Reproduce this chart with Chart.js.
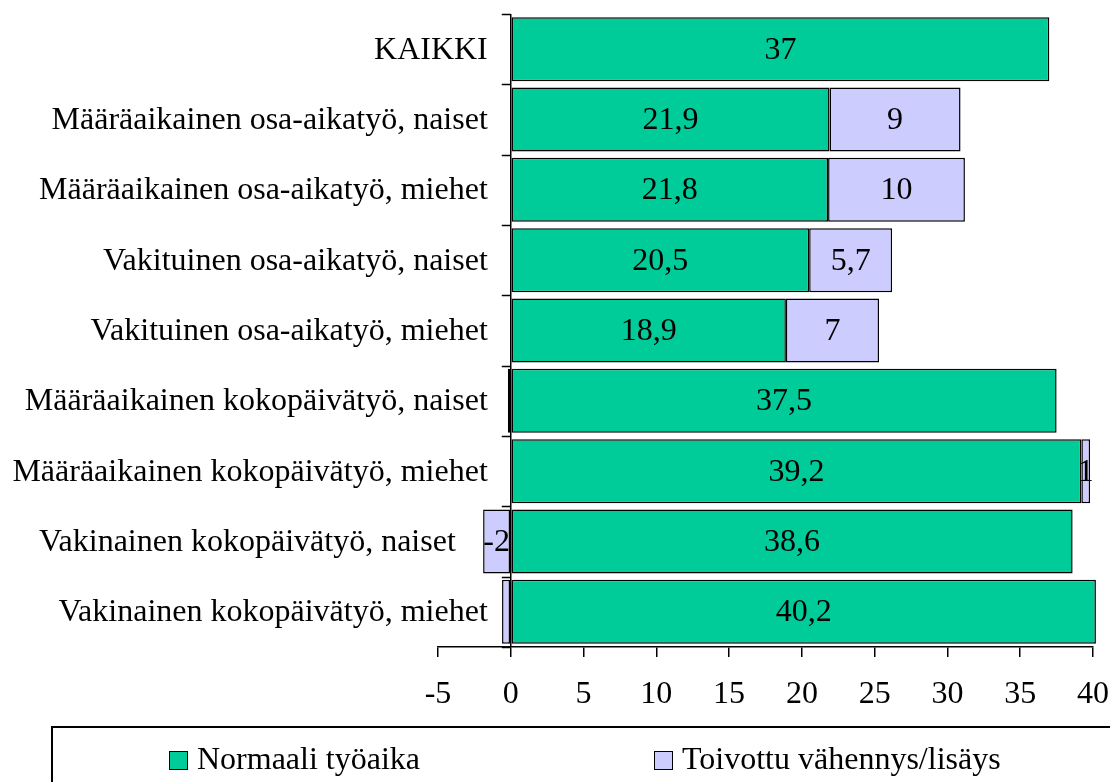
<!DOCTYPE html>
<html>
<head>
<meta charset="utf-8">
<script src="https://cdn.jsdelivr.net/npm/chart.js@4.4.1/dist/chart.umd.min.js"></script>
<style>
  html, body { margin: 0; padding: 0; background: #fff; overflow: hidden; }
  #wrap { position: relative; width: 1110px; height: 782px; }
  #legend {
    position: absolute; left: 51px; top: 726px; width: 1100px; height: 90px;
    border: 2px solid #000; box-sizing: border-box;
    font-family: 'Liberation Serif', 'Times New Roman', serif; font-size: 32px; color: #000;
  }
  .item { position: absolute; top: 12px; white-space: nowrap; line-height: 36px; }
  .box { display: inline-block; width: 17px; height: 17px; border: 1px solid #000; vertical-align: -1px; margin-right: 9px; }
</style>
</head>
<body>
<div id="wrap">
  <canvas id="grafik" width="1110" height="782"></canvas>
  <div id="legend">
    <div class="item" style="left:116px"><span class="box" style="background:#00CC99"></span>Normaali työaika</div>
    <div class="item" style="left:601px"><span class="box" style="background:#CCCCFF"></span>Toivottu vähennys/lisäys</div>
  </div>
</div>
<script>
  // data luettu kuvasta
  const kategoriat = [
    'KAIKKI',
    'Määräaikainen osa-aikatyö, naiset',
    'Määräaikainen osa-aikatyö, miehet',
    'Vakituinen osa-aikatyö, naiset',
    'Vakituinen osa-aikatyö, miehet',
    'Määräaikainen kokopäivätyö, naiset',
    'Määräaikainen kokopäivätyö, miehet',
    'Vakinainen kokopäivätyö, naiset    ',
    'Vakinainen kokopäivätyö, miehet'
  ];
  const normaaliTyoaika = [37, 21.9, 21.8, 20.5, 18.9, 37.5, 39.2, 38.6, 40.2];
  const toivottuMuutos = [0, 9, 9.4, 5.7, 6.4, -0.2, 0.6, -1.9, -0.6];
  const toivottuTekstit = ['', '9', '10', '5,7', '7', '', '1', '-2', ''];
  const xTicks = [-5, 0, 5, 10, 15, 20, 25, 30, 35, 40];

  const fontti = "'Liberation Serif', 'Times New Roman', serif";
  Chart.defaults.font.family = fontti;
  Chart.defaults.font.size = 32;
  Chart.defaults.color = '#000';

  // arvot palkkien keskelle
  const arvoTekstit = {
    id: 'arvoTekstit',
    afterDatasetsDraw(chart) {
      const ctx = chart.ctx;
      ctx.save();
      ctx.font = '32px ' + fontti;
      ctx.fillStyle = '#000';
      ctx.textAlign = 'center';
      ctx.textBaseline = 'middle';
      chart.data.datasets.forEach((ds, di) => {
        chart.getDatasetMeta(di).data.forEach((el, i) => {
          const teksti = ds.tekstit[i];
          if (!teksti) return;
          ctx.fillText(teksti, (el.x + el.base) / 2, el.y + 1);
        });
      });
      ctx.restore();
    }
  };

  // kategorianimet nollaviivan vasemmalle puolelle + pienet jakoviivat
  const akseliMerkit = {
    id: 'akseliMerkit',
    afterDraw(chart) {
      const ctx = chart.ctx;
      const x0 = chart.scales.x.getPixelForValue(0);
      const y = chart.scales.y;
      ctx.save();
      ctx.strokeStyle = '#000';
      ctx.lineWidth = 1.5;
      ctx.beginPath();
      for (let i = 0; i <= kategoriat.length; i++) {
        const py = Math.round(y.getPixelForValue(i - 0.5)) + 0.5;
        ctx.moveTo(x0 - 9, py);
        ctx.lineTo(x0, py);
      }
      ctx.stroke();
      ctx.font = '32px ' + fontti;
      ctx.fillStyle = '#000';
      ctx.textAlign = 'right';
      ctx.textBaseline = 'middle';
      chart.data.labels.forEach((nimi, i) => {
        ctx.fillText(nimi, x0 - 23, y.getPixelForValue(i) + 1);
      });
      ctx.restore();
    }
  };

  const ctx = document.getElementById('grafik').getContext('2d');
  const myChart = new Chart(ctx, {
    type: 'bar',
    data: {
      labels: kategoriat,
      datasets: [{
        label: 'Normaali työaika',
        data: normaaliTyoaika,
        tekstit: normaaliTyoaika.map(v => String(v).replace('.', ',')),
        backgroundColor: '#00CC99',
        borderColor: '#000',
        borderWidth: 1.5,
        borderSkipped: false,
        clip: false
      }, {
        label: 'Toivottu vähennys/lisäys',
        data: toivottuMuutos,
        tekstit: toivottuTekstit,
        backgroundColor: '#CCCCFF',
        borderColor: '#000',
        borderWidth: 1.5,
        borderSkipped: false,
        clip: false
      }]
    },
    options: {
      indexAxis: 'y',
      responsive: false,
      animation: false,
      layout: { padding: { top: 14, right: 17, bottom: 75, left: 0 } },
      datasets: { bar: { categoryPercentage: 1, barPercentage: 0.91 } },
      plugins: {
        legend: { display: false },
        tooltip: { enabled: false }
      },
      scales: {
        x: {
          stacked: true,
          min: -5,
          max: 40,
          afterBuildTicks: s => { s.ticks = xTicks.map(v => ({ value: v })); },
          afterFit: s => { s.height = 60; s.paddingRight = 0; s.paddingLeft = 0; },
          ticks: { padding: 18, font: { size: 32 } },
          grid: {
            color: c => (c.tick && c.tick.value === 0) ? '#000' : 'rgba(0,0,0,0)',
            tickColor: '#000',
            tickLength: 10,
            lineWidth: 1.5
          },
          border: { display: true, color: '#000', width: 1.5 }
        },
        y: {
          stacked: true,
          afterFit: s => { s.width = 438; },
          ticks: { display: false },
          grid: { display: false, drawTicks: false },
          border: { display: false }
        }
      }
    },
    plugins: [arvoTekstit, akseliMerkit]
  });
</script>
</body>
</html>
